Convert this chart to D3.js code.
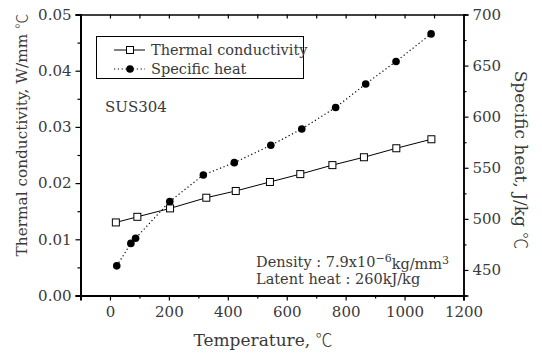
<!DOCTYPE html>
<html><head><meta charset="utf-8">
<script src="https://cdn.jsdelivr.net/npm/d3@7"></script>
<style>body{margin:0;background:#fff}svg{display:block}text{font-family:"DejaVu Serif",serif;fill:#3a3a3a}.deg{font-family:"Noto Sans CJK KR",sans-serif;font-weight:300}</style>
</head><body>
<svg id="c" width="542" height="358"></svg>
<script>
// Data
const tcTemp = [20, 93, 204, 327, 427, 543, 646, 755, 862, 972, 1091];
const tcValue = [0.0130, 0.0140, 0.0155, 0.0174, 0.0186, 0.0202, 0.0216, 0.0232, 0.0246, 0.0262, 0.0278];
const shTemp = [23, 71, 87, 203, 317, 422, 546, 651, 766, 868, 971, 1090];
const shValue = [454, 476, 481, 517, 543, 555, 572, 588, 609, 632, 654, 681];
const xTicks = [0, 200, 400, 600, 800, 1000, 1200];
const xMinor = [-100, 100, 300, 500, 700, 900, 1100];
const leftTicks = [0, 0.01, 0.02, 0.03, 0.04, 0.05];
const leftMinor = [0.005, 0.015, 0.025, 0.035, 0.045];
const rightTicks = [450, 500, 550, 600, 650, 700];
const rightMinor = [425, 475, 525, 575, 625, 675];
const legendLabels = ["Thermal conductivity", "Specific heat"];

const svg = d3.select("#c");
const L = 80.5, R = 463.5, T = 14.5, B = 295.5;
const x = d3.scaleLinear().domain([-100, 1200]).range([L, R]);
const yL = d3.scaleLinear().domain([0, 0.05]).range([B, T]);
const yR = d3.scaleLinear().domain([425, 700]).range([B, T]);

function styleAxis(g, w) {
  g.select(".domain").attr("stroke", "#000").attr("stroke-width", w);
  g.selectAll(".tick line").attr("stroke", "#000").attr("stroke-width", 1.2);
  g.selectAll(".tick text").attr("font-family", "DejaVu Serif").attr("font-size", 15).attr("fill", "#444");
}
// bottom
let g = svg.append("g").attr("transform", `translate(0,${B})`)
  .call(d3.axisBottom(x).tickValues(xTicks).tickSize(5).tickPadding(6).tickFormat(d3.format("d")));
styleAxis(g, 2);
g = svg.append("g").attr("transform", `translate(0,${B})`)
  .call(d3.axisBottom(x).tickValues(xMinor).tickSize(3).tickFormat(""));
styleAxis(g, 2);
// top
g = svg.append("g").attr("transform", `translate(0,${T})`)
  .call(d3.axisBottom(x).tickValues(xTicks.concat(xMinor).filter(d => d > -100 && d < 1200)).tickSize(4).tickSizeOuter(0).tickFormat(""));
styleAxis(g, 1.5);
// left
g = svg.append("g").attr("transform", `translate(${L},0)`)
  .call(d3.axisLeft(yL).tickValues(leftTicks).tickSize(5).tickPadding(4).tickFormat(d3.format(".2f")));
styleAxis(g, 2);
g = svg.append("g").attr("transform", `translate(${L},0)`)
  .call(d3.axisLeft(yL).tickValues(leftMinor).tickSize(3).tickFormat(""));
styleAxis(g, 2);
// right
g = svg.append("g").attr("transform", `translate(${R},0)`)
  .call(d3.axisRight(yR).tickValues(rightTicks).tickSize(5).tickPadding(4).tickFormat(d3.format("d")));
styleAxis(g, 1.5);
g = svg.append("g").attr("transform", `translate(${R},0)`)
  .call(d3.axisRight(yR).tickValues(rightMinor).tickSize(3).tickFormat(""));
styleAxis(g, 1.5);

// series
const tcData = tcTemp.map((t, i) => [t, tcValue[i]]);
const shData = shTemp.map((t, i) => [t, shValue[i]]);
svg.append("path").datum(tcData)
  .attr("d", d3.line().x(d => x(d[0])).y(d => yL(d[1])))
  .attr("fill", "none").attr("stroke", "#000").attr("stroke-width", 1);
svg.append("path").datum(shData)
  .attr("d", d3.line().x(d => x(d[0])).y(d => yR(d[1])))
  .attr("fill", "none").attr("stroke", "#000").attr("stroke-width", 1.2).attr("stroke-dasharray", "1.2,2.6");
svg.selectAll("rect.tc").data(tcData).join("rect").attr("class", "tc")
  .attr("x", d => x(d[0]) - 3.5).attr("y", d => yL(d[1]) - 3.5).attr("width", 7).attr("height", 7)
  .attr("fill", "#fff").attr("stroke", "#000").attr("stroke-width", 1);
svg.selectAll("circle.sh").data(shData).join("circle").attr("class", "sh")
  .attr("cx", d => x(d[0])).attr("cy", d => yR(d[1])).attr("r", 3.8).attr("fill", "#000");

// legend
svg.append("rect").attr("x", 96.5).attr("y", 36.5).attr("width", 207).attr("height", 42)
  .attr("fill", "none").attr("stroke", "#000").attr("stroke-width", 1);
svg.append("line").attr("x1", 114).attr("x2", 145).attr("y1", 50).attr("y2", 50).attr("stroke", "#000");
svg.append("rect").attr("x", 126.5).attr("y", 46.5).attr("width", 7).attr("height", 7).attr("fill", "#fff").attr("stroke", "#000");
svg.append("line").attr("x1", 114).attr("x2", 145).attr("y1", 69).attr("y2", 69).attr("stroke", "#000").attr("stroke-dasharray", "1.2,2.6").attr("stroke-width", 1.2);
svg.append("circle").attr("cx", 130).attr("cy", 69).attr("r", 3.8).attr("fill", "#000");
svg.selectAll("text.leg").data(legendLabels).join("text").attr("class", "leg")
  .attr("x", 151).attr("y", (d, i) => 50 + i * 19).attr("dy", "0.35em").attr("font-size", 14.5).text(d => d);

svg.append("text").attr("x", 105).attr("y", 107).attr("dy", "0.35em").attr("font-size", 15).text("SUS304");

const dens = svg.append("text").attr("x", 256).attr("y", 262).attr("dy", "0.35em").attr("font-size", 14.5);
dens.append("tspan").text("Density : 7.9x10");
dens.append("tspan").attr("dy", "-0.45em").attr("font-size", 11).text("−6");
dens.append("tspan").attr("dy", "0.45em").text("kg/mm");
dens.append("tspan").attr("dy", "-0.45em").attr("font-size", 11).text("3");
svg.append("text").attr("x", 256).attr("y", 279).attr("dy", "0.35em").attr("font-size", 14.5).text("Latent heat : 260kJ/kg");

// axis titles
function title(sel, txt, size) {
  sel.attr("font-size", size).attr("text-anchor", "middle").attr("dy", "0.35em");
  sel.append("tspan").text(txt);
  sel.append("tspan").attr("class", "deg").text("℃");
}
title(svg.append("text").attr("transform", "translate(22,135) rotate(-90)"), "Thermal conductivity, W/mm ", 15.3);
title(svg.append("text").attr("transform", "translate(521,160) rotate(90)"), "Specific heat, J/kg ", 17);
title(svg.append("text").attr("x", 263).attr("y", 340), "Temperature, ", 17);
</script>
</body></html>
